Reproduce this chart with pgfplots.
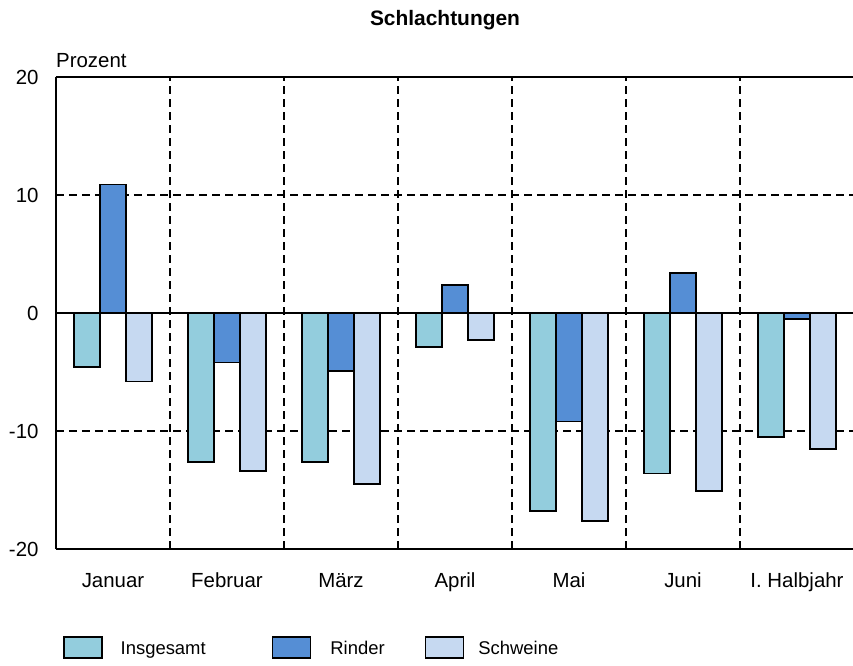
\documentclass[border=0pt]{standalone}
\usepackage{fontspec}
\setmainfont{Liberation Sans}
\usepackage{pgfplots}
\pgfplotsset{compat=1.18}
\definecolor{cIns}{RGB}{147,205,221}
\definecolor{cRin}{RGB}{85,142,213}
\definecolor{cSch}{RGB}{198,217,241}
\pgfplotsset{
  mybar/.style={draw=black, line width=1.7bp,
    legend image code/.code={\draw[##1, line width=1.7bp] (0bp,-3bp) rectangle (38bp,18bp);}},
  mygrid/.style={black, line width=2bp, dash pattern=on 8bp off 5bp}
}
\begin{document}
\begin{tikzpicture}
\begin{axis}[name=ax, scale only axis, width=798bp, height=472bp,
  xmin=-0.5, xmax=6.5, ymin=-20, ymax=20,
  ybar=0pt, bar width=26bp,
  axis x line=bottom, axis y line=left,
  axis line style={-, line width=2bp, black},
  xtick={0,1,2,3,4,5,6},
  xticklabels={Januar,Februar,März,April,Mai,Juni,I. Halbjahr},
  minor xtick={0.5,1.5,2.5,3.5,4.5,5.5}, xminorgrids=true,
  ytick={-20,-10,10,20}, yticklabels={-20,-10,10,20}, ymajorgrids=true,
  extra y ticks={0}, extra y tick labels={0},
  extra y tick style={grid=major, major grid style={solid, black, line width=1.3bp}},
  major grid style={mygrid}, minor grid style={mygrid},
  major tick length=0pt, minor tick length=0pt,
  tick label style={font=\fontsize{20.5}{24}\selectfont},
  xticklabel style={anchor=base, yshift=-38bp},
  yticklabel style={xshift=-14bp},
  clip=false,
  legend columns=3,
  legend style={at={(0,0)}, anchor=north west, xshift=7bp, yshift=-87bp,
    draw=none, inner sep=0pt, outer sep=0pt, nodes={inner sep=0pt},
    cells={anchor=base west},
    font=\fontsize{18.5}{22}\selectfont,
    /tikz/column 1/.style={column sep=18bp},
    /tikz/column 2/.style={column sep=66bp},
    /tikz/column 3/.style={column sep=19bp},
    /tikz/column 4/.style={column sep=40bp},
    /tikz/column 5/.style={column sep=14bp}},
]
\addplot[mybar, fill=cIns] coordinates {(0,-4.6) (1,-12.6) (2,-12.6) (3,-2.9) (4,-16.8) (5,-13.6) (6,-10.5)};
\addplot[mybar, fill=cRin] coordinates {(0,10.9) (1,-4.2) (2,-4.9) (3,2.4) (4,-9.2) (5,3.4) (6,-0.5)};
\addplot[mybar, fill=cSch] coordinates {(0,-5.8) (1,-13.4) (2,-14.5) (3,-2.3) (4,-17.6) (5,-15.1) (6,-11.5)};
\legend{Insgesamt,Rinder,Schweine}
\draw[line width=2bp, black] (rel axis cs:0,1) -- (rel axis cs:1,1);
\end{axis}
\node[anchor=base, inner sep=0pt, font=\bfseries\fontsize{21}{25}\selectfont] at ([xshift=389bp, yshift=51bp]ax.north west) {Schlachtungen};
\node[anchor=base west, inner sep=0pt, font=\fontsize{20.5}{24}\selectfont] at ([yshift=9bp]ax.north west) {Prozent};
\pgfresetboundingbox
\path[use as bounding box] (ax.south west) ++(-56bp,-117bp) rectangle ++(853bp,666bp);
\end{tikzpicture}
\end{document}
